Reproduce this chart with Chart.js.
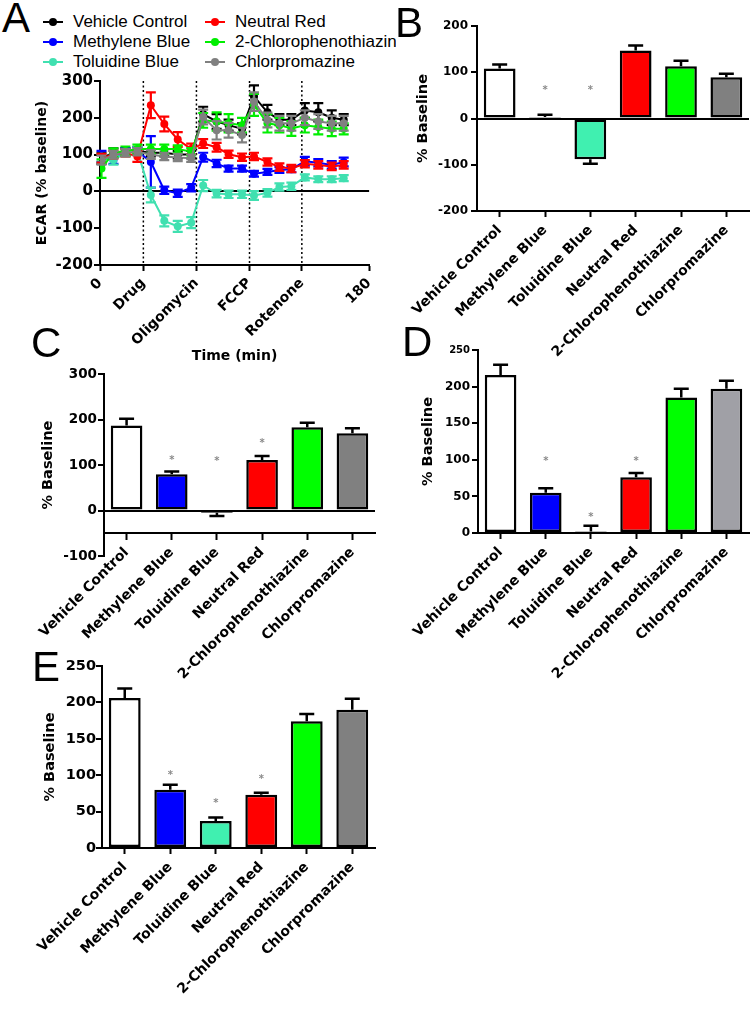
<!DOCTYPE html>
<html>
<head>
<meta charset="utf-8">
<script src="https://cdn.jsdelivr.net/npm/chart.js@4.4.1/dist/chart.umd.min.js"></script>
<style>
  body { margin:0; background:#fff; width:756px; height:1010px; position:relative; overflow:hidden; font-family:"Liberation Sans", Arial, sans-serif; }
  canvas { position:absolute; }
  .letter { position:absolute; font-size:42px; line-height:42px; color:#000; }
  #legend { position:absolute; left:0; top:0; width:396px; height:75px; overflow:hidden; font-size:17px; }
  .item { position:absolute; white-space:nowrap; line-height:20px; }
  .mark { position:absolute; width:20px; height:2px; top:9px; }
  .mark i { position:absolute; left:6px; top:-3px; width:8px; height:8px; border-radius:50%; }
</style>
</head>
<body>
<div id="legend"></div>
<canvas id="cA" width="385" height="295" style="left:0;top:70px"></canvas>
<canvas id="cB" width="376" height="380" style="left:380px;top:0"></canvas>
<canvas id="cC" width="385" height="340" style="left:0;top:365px"></canvas>
<canvas id="cD" width="376" height="340" style="left:380px;top:340px"></canvas>
<canvas id="cE" width="385" height="355" style="left:0;top:655px"></canvas>
<div class="letter" style="left:2px;top:-3px">A</div>
<div class="letter" style="left:395px;top:2px">B</div>
<div class="letter" style="left:31px;top:322px">C</div>
<div class="letter" style="left:402px;top:321px">D</div>
<div class="letter" style="left:32px;top:646px">E</div>
<script>
// ---- data ----
const NAMES = ["Vehicle Control","Methylene Blue","Toluidine Blue","Neutral Red","2-Chlorophenothiazine","Chlorpromazine"];
const LINE_COLORS = ["#000000","#0000ff","#40e0b0","#ff0000","#00ee00","#808080"];
const BAR_COLORS = ["#ffffff","#0000ff","#40f0b0","#ff0000","#00ff00","#808080"];

// panel A: ECAR time course
const TIME = [1, 9, 17, 25, 34, 43, 52, 61, 69, 78, 86, 95, 103, 112, 120, 128, 137, 146, 155, 163];
const VEHICLE   = [90, 105, 108, 110, 105, 105, 100, 100, 210, 190, 180, 170, 258, 215, 195, 195, 220, 215, 200, 195];
const METHYLENE = [95, 85, 108, 110, 80, 3, -5, 10, 93, 76, 62, 62, 48, 53, 58, 60, 82, 78, 72, 80];
const TOLUIDINE = [90, 85, 105, 110, -10, -80, -95, -85, 16, -6, -8, -8, -11, -4, 12, 14, 38, 33, 33, 36];
const NEUTRAL   = [90, 100, 105, 95, 234, 183, 141, 115, 130, 120, 101, 93, 95, 80, 66, 62, 75, 72, 68, 72];
const CHLOROPHEN= [62, 105, 110, 115, 115, 115, 115, 108, 193, 190, 185, 180, 235, 185, 180, 171, 180, 175, 170, 170];
const CHLORPROM = [85, 100, 105, 108, 100, 95, 92, 90, 202, 166, 166, 153, 244, 194, 185, 185, 200, 190, 185, 185];
const VEHICLE_ERR   = [15, 12, 10, 10, 10, 10, 10, 10, 20, 20, 15, 15, 30, 20, 15, 15, 20, 25, 20, 15];
const METHYLENE_ERR = [15, 10, 10, 10, 70, 10, 10, 10, 12, 10, 8, 8, 8, 8, 8, 8, 12, 10, 10, 12];
const TOLUIDINE_ERR = [12, 12, 10, 10, 20, 15, 15, 15, 15, 10, 10, 10, 12, 10, 10, 10, 8, 8, 8, 8];
const NEUTRAL_ERR   = [12, 10, 10, 15, 35, 20, 20, 15, 12, 12, 10, 10, 10, 10, 10, 10, 10, 10, 10, 10];
const CHLOROPHEN_ERR= [25, 12, 12, 12, 12, 12, 10, 10, 20, 25, 25, 20, 30, 25, 20, 20, 20, 20, 20, 15];
const CHLORPROM_ERR = [12, 10, 10, 10, 12, 10, 10, 10, 20, 25, 20, 20, 25, 20, 20, 20, 20, 20, 20, 20];
const A_X_TICKS = [0, 29, 64.5, 100, 135, 180];
const A_X_LABELS = ["0", "Drug", "Oligomycin", "FCCP", "Rotenone", "180"];
const INJECTIONS = [29, 64.5, 100, 135];
const A_Y_TICKS = [-200, -100, 0, 100, 200, 300];

// panels B-E: % baseline bars
const B_VALUES = [108, 3, -88, 147, 113, 89];
const B_ERRORS = [9, 5, 10, 11, 12, 8];
const B_STARS  = [null, 65, 65, null, null, null];
const B_Y_TICKS = [-200, -100, 0, 100, 200];

const C_VALUES = [187, 80, -5, 111, 183, 170];
const C_ERRORS = [15, 6, 7, 9, 10, 11];
const C_STARS  = [null, 115, 112, 153, null, null];
const C_Y_TICKS = [-100, 0, 100, 200, 300];

const D_VALUES = [216, 55, 2, 76, 185, 197];
const D_ERRORS = [14, 6, 8, 6, 12, 11];
const D_STARS  = [null, 101, 24, 101, null, null];
const D_Y_TICKS = [0, 50, 100, 150, 200, 250];

const E_VALUES = [206, 80, 37, 73, 174, 190];
const E_ERRORS = [13, 7, 5, 3, 10, 15];
const E_STARS  = [null, 103, 64, 97, null, null];
const E_Y_TICKS = [0, 50, 100, 150, 200, 250];

// ---- legend (panel A) ----
const legendPos = [[43,12],[43,32],[43,52],[205,12],[205,32],[205,52]];
const legend = document.getElementById("legend");
NAMES.forEach((n, i) => {
  const d = document.createElement("div");
  d.className = "item";
  d.style.left = legendPos[i][0] + "px";
  d.style.top = legendPos[i][1] + "px";
  d.innerHTML = `<span class="mark" style="left:0;background:${LINE_COLORS[i]}"><i style="background:${LINE_COLORS[i]}"></i></span><span style="margin-left:30px">${n}</span>`;
  legend.appendChild(d);
});

// ---- plugins ----
const errorBars = {
  id: "errorBars",
  afterDatasetDraw(chart, args) {
    const ds = chart.data.datasets[args.index];
    if (!ds.errors) return;
    const y = chart.scales.y, ctx = chart.ctx;
    ctx.save();
    ctx.strokeStyle = ds.errorColor || ds.borderColor;
    ctx.lineWidth = ds.errorWidth || 2;
    args.meta.data.forEach((el, i) => {
      const raw = ds.data[i];
      const v = typeof raw === "object" ? raw.y : raw;
      const e = ds.errors[i];
      const cap = ds.capWidth / 2;
      let hi, lo;
      if (ds.oneSided) {
        hi = y.getPixelForValue(v < 0 ? v - e : v + e);
        lo = y.getPixelForValue(v);
      } else {
        hi = y.getPixelForValue(v + e);
        lo = y.getPixelForValue(v - e);
      }
      ctx.beginPath();
      ctx.moveTo(el.x, lo); ctx.lineTo(el.x, hi);
      ctx.moveTo(el.x - cap, hi); ctx.lineTo(el.x + cap, hi);
      if (!ds.oneSided) { ctx.moveTo(el.x - cap, lo); ctx.lineTo(el.x + cap, lo); }
      ctx.stroke();
    });
    ctx.restore();
  }
};

const stars = {
  id: "stars",
  afterDatasetsDraw(chart) {
    const ds = chart.data.datasets[0];
    if (!ds.stars) return;
    const meta = chart.getDatasetMeta(0), y = chart.scales.y, ctx = chart.ctx;
    ctx.save();
    ctx.fillStyle = "#8a8a8a";
    ctx.font = "bold 10px 'DejaVu Sans'";
    ctx.textAlign = "center";
    ctx.textBaseline = "middle";
    ds.stars.forEach((s, i) => {
      if (s == null) return;
      ctx.fillText("*", meta.data[i].x, y.getPixelForValue(s) + 2);
    });
    ctx.restore();
  }
};

const injections = {
  id: "injections",
  beforeDatasetsDraw(chart) {
    const {ctx, chartArea, scales: {x}} = chart;
    ctx.save();
    ctx.strokeStyle = "#000";
    ctx.lineWidth = 1.5;
    ctx.setLineDash([2, 2.5]);
    INJECTIONS.forEach(t => {
      const px = x.getPixelForValue(t);
      ctx.beginPath();
      ctx.moveTo(px, chartArea.top);
      ctx.lineTo(px, chartArea.bottom);
      ctx.stroke();
    });
    ctx.restore();
  }
};

const zeroOnly = ctx => (ctx.tick && ctx.tick.value === 0) ? "#000" : "rgba(0,0,0,0)";
const setTicks = list => scale => { scale.ticks = list.map(v => ({value: v})); };

// ---- panel A ----
const seriesA = [
  [VEHICLE, VEHICLE_ERR], [METHYLENE, METHYLENE_ERR], [TOLUIDINE, TOLUIDINE_ERR],
  [NEUTRAL, NEUTRAL_ERR], [CHLOROPHEN, CHLOROPHEN_ERR], [CHLORPROM, CHLORPROM_ERR]
];
const drawOrder = [5, 4, 3, 2, 1, 0]; // gray on top, black at the back

new Chart(document.getElementById("cA"), {
  type: "line",
  data: {
    datasets: seriesA.map(([vals, errs], i) => ({
      label: NAMES[i],
      data: vals.map((v, k) => ({x: TIME[k], y: v})),
      errors: errs,
      capWidth: 10,
      errorWidth: 2.2,
      borderColor: LINE_COLORS[i],
      backgroundColor: LINE_COLORS[i],
      borderWidth: 2,
      pointRadius: 4,
      pointBorderWidth: 0,
      tension: 0,
      order: drawOrder[i]
    }))
  },
  options: {
    responsive: false,
    animation: false,
    layout: { padding: { top: 11, right: 14, left: 0, bottom: 0 } },
    plugins: { legend: { display: false }, tooltip: { enabled: false } },
    scales: {
      x: {
        type: "linear", min: 0, max: 180,
        afterBuildTicks: setTicks(A_X_TICKS),
        afterFit: s => { s.height = 100; },
        ticks: {
          autoSkip: false, maxRotation: 45, minRotation: 45, padding: 4,
          color: "#000", font: { family: "DejaVu Sans", weight: "bold", size: 14 },
          callback: v => A_X_LABELS[A_X_TICKS.indexOf(v)]
        },
        grid: { drawOnChartArea: false, tickColor: "#000", tickLength: 6, tickWidth: 2 },
        border: { color: "#000", width: 2 },
        title: { display: true, text: "Time (min)", color: "#000", padding: { top: 0, bottom: 0 },
                 font: { family: "DejaVu Sans", weight: "bold", size: 14 } }
      },
      y: {
        min: -200, max: 300,
        afterBuildTicks: setTicks(A_Y_TICKS),
        afterFit: s => { s.width = 100; },
        ticks: { color: "#000", padding: 1, font: { family: "DejaVu Sans", weight: "bold", size: 15 } },
        grid: { color: zeroOnly, lineWidth: 2, tickColor: "#000", tickLength: 6, tickWidth: 2 },
        border: { color: "#000", width: 2 },
        title: { display: true, text: "ECAR (% baseline)", color: "#000", padding: { top: 34, bottom: 0 },
                 font: { family: "DejaVu Sans", weight: "bold", size: 14 } }
      }
    }
  },
  plugins: [injections, errorBars]
});

// ---- bar panels ----
function barPanel(id, values, errors, starList, yTicks, cfg) {
  const colors = BAR_COLORS.slice();
  if (cfg.gray) colors[5] = cfg.gray;
  const xScale = {
    type: "category",
    ticks: {
      autoSkip: false, maxRotation: 45, minRotation: 45, padding: cfg.labelPad || 5,
      color: "#000", font: { family: "DejaVu Sans", weight: "bold", size: 14 }
    },
    grid: { offset: false, drawOnChartArea: false, tickColor: "#000", tickLength: 6, tickWidth: 2 },
    border: { color: "#000", width: 2 }
  };
  if (cfg.xAt !== undefined) xScale.position = { y: cfg.xAt };
  else xScale.afterFit = s => { s.height = cfg.xHeight; };
  return new Chart(document.getElementById(id), {
    type: "bar",
    data: {
      labels: NAMES,
      datasets: [{
        data: values,
        errors: errors,
        stars: starList,
        oneSided: true,
        capWidth: 15,
        errorWidth: 2.5,
        errorColor: "#000",
        backgroundColor: colors,
        borderColor: "#000",
        borderWidth: 2.5,
        borderSkipped: false,
        barPercentage: 0.7,
        categoryPercentage: 1
      }]
    },
    options: {
      responsive: false,
      animation: false,
      layout: { padding: cfg.padding },
      plugins: { legend: { display: false }, tooltip: { enabled: false } },
      scales: {
        x: xScale,
        y: {
          min: yTicks[0], max: yTicks[yTicks.length - 1],
          afterBuildTicks: setTicks(yTicks),
          afterFit: s => { s.width = cfg.yWidth; },
          ticks: {
            color: "#000", padding: cfg.tickPad,
            font: ctx => ({ family: "DejaVu Sans", weight: "bold",
                            size: (cfg.smallTop && ctx.tick && ctx.tick.value === yTicks[yTicks.length - 1]) ? 10 : cfg.tickSize })
          },
          grid: { color: zeroOnly, lineWidth: 2, tickColor: "#000", tickLength: 6, tickWidth: 2 },
          border: { color: "#000", width: 2 },
          title: { display: true, text: "% Baseline", color: "#000", padding: { top: cfg.titlePad, bottom: 0 },
                   font: { family: "DejaVu Sans", weight: "bold", size: 14.5 } }
        }
      }
    },
    plugins: [errorBars, stars]
  });
}

barPanel("cB", B_VALUES, B_ERRORS, B_STARS, B_Y_TICKS,
  { padding: { top: 26, right: 7, left: 0, bottom: 0 }, yWidth: 97, xHeight: 169, tickSize: 12, tickPad: 3, titlePad: 35 });
barPanel("cC", C_VALUES, C_ERRORS, C_STARS, C_Y_TICKS,
  { padding: { top: 9, right: 10, left: 0, bottom: 149 }, yWidth: 104, xAt: -50, tickSize: 13.5, tickPad: 1, titlePad: 40 });
barPanel("cD", D_VALUES, D_ERRORS, D_STARS, D_Y_TICKS,
  { padding: { top: 10, right: 7, left: 0, bottom: 0 }, yWidth: 98, xHeight: 147, tickSize: 12, tickPad: 2, titlePad: 40,
    gray: "#a0a0a6", smallTop: true });
barPanel("cE", E_VALUES, E_ERRORS, E_STARS, E_Y_TICKS,
  { padding: { top: 11, right: 10, left: 0, bottom: 0 }, yWidth: 102, xHeight: 162, tickSize: 14.5, tickPad: 0, titlePad: 42 });
</script>
</body>
</html>
